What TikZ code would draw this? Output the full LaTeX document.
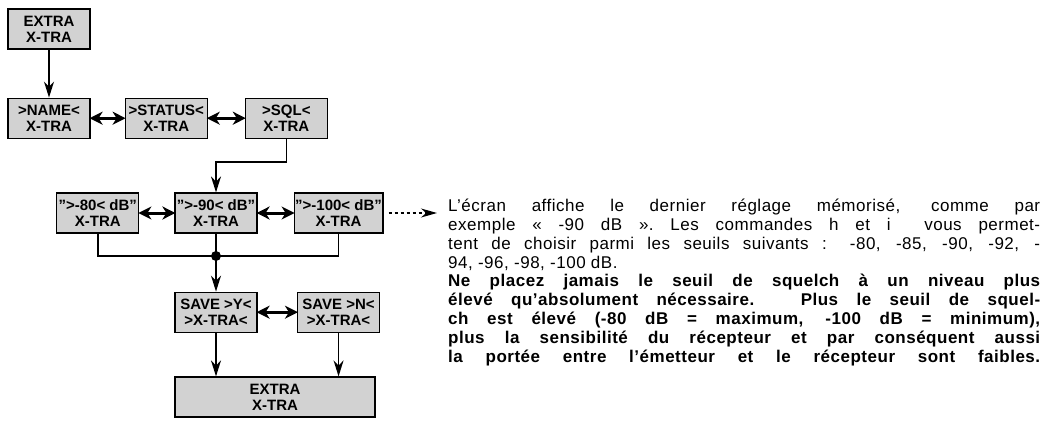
\documentclass[tikz,border=0pt]{standalone}
\usepackage{fontspec}
\setmainfont{Liberation Sans}
\usetikzlibrary{arrows.meta,positioning,calc}
\newcommand{\boxfont}{\fontsize{15}{16}\selectfont\bfseries}
\tikzstyle{block} = [draw, line width = 1.2pt, rectangle, fill = gray!35, minimum height = 40pt, minimum width = 82pt, inner sep = 1pt, align = center, font = \boxfont]
\tikzstyle{arrow} = [line width = 1.6pt, -{Stealth[length = 16pt, width = 10pt]}]
\tikzstyle{swap} = [line width = 3pt, {Stealth[length = 13pt, width = 13pt, inset = 4pt]}-{Stealth[length = 13pt, width = 13pt, inset = 4pt]}, shorten <= -1pt, shorten >= -1pt]

\begin{document}
\begin{tikzpicture}[x = 1pt, y = -1pt]
		\useasboundingbox (0, 0) rectangle (1049, 431);
		
		% Top
		\node[block] (extra) at (49, 29) {EXTRA\\X-TRA};
		
		% Menu row
		\node[block, below = 48 pt of extra] (name) {>NAME<\\X-TRA};
		\node[block, right = 34 pt of name] (status) {>STATUS<\\X-TRA};
		\node[block, right = 37 pt of status] (sql) {>SQL<\\X-TRA};
		
		% Threshold row
		\node[block] (m90) at (216, 213) {">-90< dB"\\X-TRA};
		\node[block, left = 35 pt of m90] (m80) {">-80< dB"\\X-TRA};
		\node[block, right = 36 pt of m90] (m100) {">-100< dB"\\X-TRA};
		\coordinate (join) at (216, 256);
		\coordinate (bend) at (284, 162);
		
		% Save row
		\node[block, below = 58 pt of m90] (savey) {SAVE >Y<\\>X-TRA<};
		\node[block, below = 58 pt of m100] (saven) {SAVE >N<\\>X-TRA<};
		\node[block, minimum width = 200pt] (exit) at (275, 397) {EXTRA\\X-TRA};
		
		% Text
		\node[anchor = north west, text width = 592pt, align = justify, inner sep = 0pt] (note) at (448, 199) {\fontsize{17}{18.8}\selectfont\addfontfeatures{LetterSpace=3}L’écran affiche le dernier réglage mémorisé, comme par\linebreak exemple « -90 dB ». Les commandes h et i\ \ vous permet-\linebreak tent de choisir parmi les seuils suivants : -80, -85, -90, -92, -\linebreak 94, -96, -98, -100 dB.\par
		{\bfseries\parfillskip=0pt Ne placez jamais le seuil de squelch à un niveau plus\linebreak élevé qu'absolument nécessaire. Plus le seuil de squel-\linebreak ch est élevé (-80 dB = maximum, -100 dB = minimum),\linebreak plus la sensibilité du récepteur et par conséquent aussi\linebreak la portée entre l'émetteur et le récepteur sont faibles.\par}};
		
		% Connect all nodes defined above
		\draw[arrow] (extra) -- (name);
		\draw[swap] (name) -- (status);
		\draw[swap] (status) -- (sql);
		\draw[arrow] (sql.south) |- (bend -| m90) -- (m90);
		\draw[swap] (m80) -- (m90);
		\draw[swap] (m90) -- (m100);
		\draw[line width = 1.2pt, dashed, -{Stealth[length = 16pt, width = 9pt]}] (m100.east) ++(5pt, 0) coordinate (d) -- (437, 213);
		\draw[line width = 1.6pt] (m80.south) |- (join) -| (m100.south);
		\draw[line width = 1.6pt] (m90.south) -- (join);
		\fill (join) circle (5pt);
		\draw[arrow] (join) -- (savey);
		\draw[swap] (savey) -- (saven);
		\draw[arrow] (savey) -- (savey |- exit.north);
		\draw[arrow] (saven) -- (saven |- exit.north);
		
	\end{tikzpicture}
\end{document}
